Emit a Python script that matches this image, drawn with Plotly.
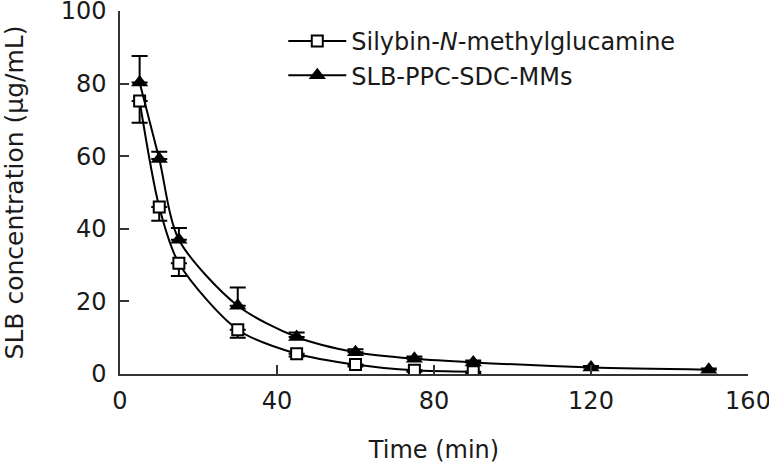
import plotly.graph_objects as go

# sampling times (min)
time_min = [5, 10, 15, 30, 45, 60, 75, 90, 120, 150]

# Silybin-N-methylglucamine (only measured up to 90 min)
time_nmg = [5, 10, 15, 30, 45, 60, 75, 90]
conc_nmg = [75.2, 46.0, 30.5, 12.2, 5.6, 2.6, 1.0, 0.6]
sd_nmg = [6.0, 3.8, 3.5, 2.2, 0.8, 0.5, 0.4, 0.3]

# SLB-PPC-SDC-MMs
conc_mm = [80.3, 59.2, 37.0, 18.8, 10.2, 6.0, 4.2, 3.2, 1.8, 1.2]
sd_mm = [7.3, 2.0, 3.2, 5.0, 1.2, 0.8, 0.6, 0.5, 0.4, 0.3]

x_ticks = [0, 40, 80, 120, 160]
y_ticks = [0, 20, 40, 60, 80, 100]

font_family = "DejaVu Sans"
text_color = "#1a1a1a"

fig = go.Figure()

fig.add_trace(go.Scatter(
    x=time_nmg, y=conc_nmg,
    mode="lines+markers",
    name="Silybin-<i>N</i>-methylglucamine",
    line=dict(color="black", width=2, shape="spline", smoothing=0.8),
    marker=dict(symbol="square", size=11, color="white",
                line=dict(color="black", width=2)),
    error_y=dict(type="data", symmetric=False, array=[0] * len(sd_nmg),
                 arrayminus=sd_nmg, color="black", thickness=2, width=8),
))

fig.add_trace(go.Scatter(
    x=time_min, y=conc_mm,
    mode="lines+markers",
    name="SLB-PPC-SDC-MMs",
    line=dict(color="black", width=2, shape="spline", smoothing=0.8),
    marker=dict(symbol="triangle-up", size=15, color="black"),
    error_y=dict(type="data", symmetric=False, array=sd_mm,
                 arrayminus=[0] * len(sd_mm), color="black", thickness=2, width=8),
))

axis_common = dict(
    showline=True, linecolor="#333", linewidth=1.5,
    ticks="inside", ticklen=9, tickwidth=1.5, tickcolor="#333",
    showgrid=False, zeroline=False, automargin=False,
    ticklabeloverflow="allow",
    tickfont=dict(family=font_family, size=24, color=text_color),
)

fig.update_xaxes(
    range=[0, 160], tickvals=x_ticks, ticklabelstandoff=4,
    title=dict(text="Time (min)", font=dict(family=font_family, size=24, color=text_color), standoff=30),
    **axis_common,
)
fig.update_yaxes(
    range=[0, 100], tickvals=y_ticks, ticklabelstandoff=7,
    title=dict(text="SLB concentration (μg/mL)", font=dict(family=font_family, size=25, color=text_color), standoff=34),
    **axis_common,
)

fig.update_layout(
    width=769, height=464,
    margin=dict(l=120, r=21, t=11, b=90),
    plot_bgcolor="white", paper_bgcolor="white",
    showlegend=True,
    legend=dict(x=0.26, y=0.978, xanchor="left", yanchor="top",
                bgcolor="rgba(0,0,0,0)", tracegroupgap=0, itemwidth=58,
                font=dict(family=font_family, size=24, color=text_color)),
)

# drop the default 8px body margin so the figure sits flush in the window
fig.write_html("out.html", config={"displayModeBar": False},
               post_script="document.body.style.margin = '0';")
